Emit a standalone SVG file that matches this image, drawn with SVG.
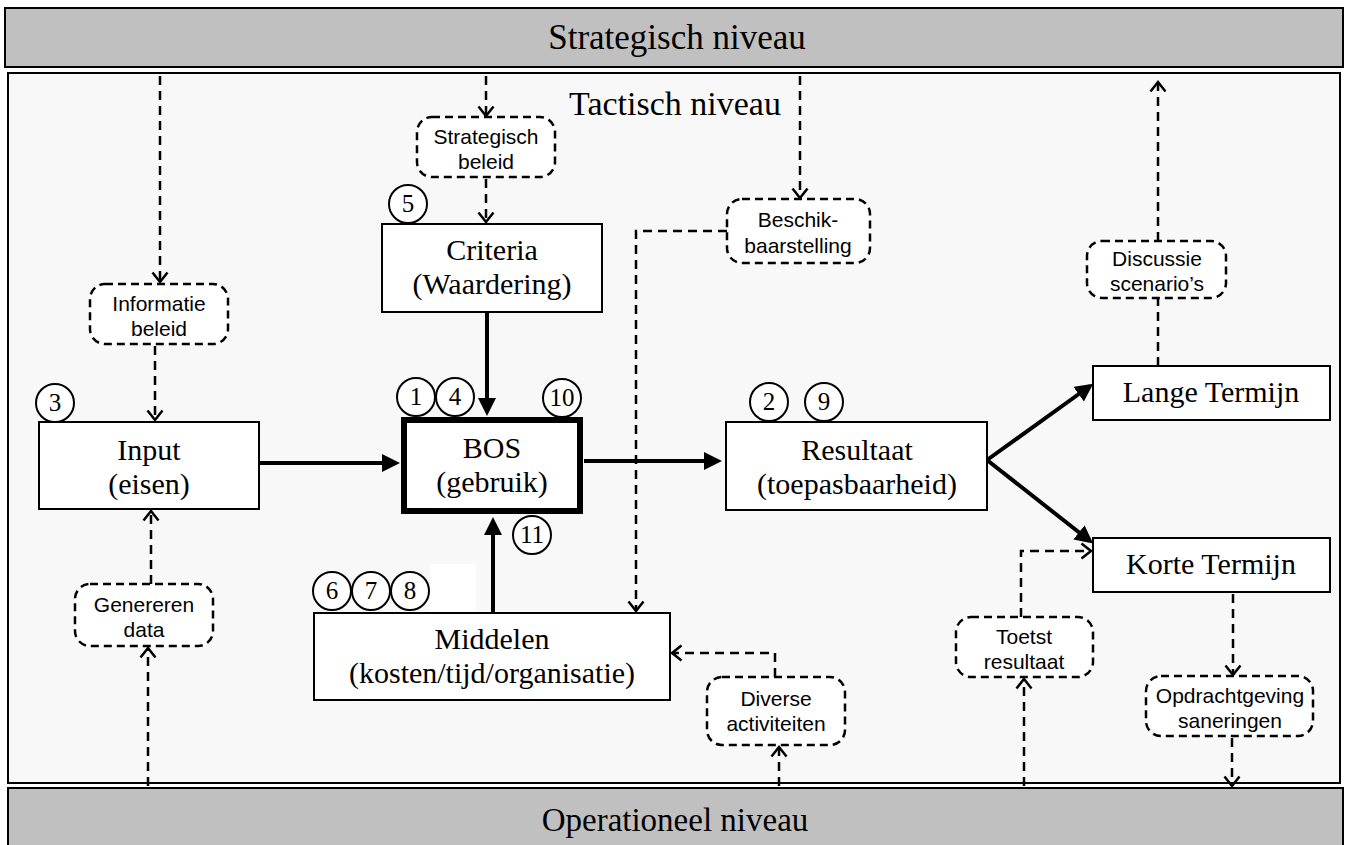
<svg xmlns="http://www.w3.org/2000/svg" width="1349" height="845" viewBox="0 0 1349 845">
<defs>
<style>
.bar{fill:#c0c0c0;stroke:#000;stroke-width:2}
.lvl{font-family:"Liberation Serif","Times New Roman",serif;font-size:34px;fill:#000;text-anchor:middle}
.box{fill:#fff;stroke:#000;stroke-width:2}
.bt{font-family:"Liberation Serif","Times New Roman",serif;font-size:30px;fill:#000;text-anchor:middle}
.db{fill:#fff;stroke:#000;stroke-width:2.5;stroke-dasharray:8 5}
.dt{font-family:"Liberation Sans",Arial,sans-serif;font-size:21px;fill:#000;text-anchor:middle}
.circ{fill:#fff;stroke:#000;stroke-width:2}
.ct{font-family:"Liberation Serif","Times New Roman",serif;font-size:25px;fill:#000;text-anchor:middle}
.dash{fill:none;stroke:#000;stroke-width:2.5;stroke-dasharray:9 6}
.thick{fill:none;stroke:#000;stroke-width:4}
</style>
<marker id="open" markerWidth="14" markerHeight="18" refX="11" refY="9" orient="auto" markerUnits="userSpaceOnUse"><path d="M1.5,1.5 L11,9 L1.5,16.5" fill="none" stroke="#000" stroke-width="2.5"/></marker>
<marker id="solid" markerWidth="20" markerHeight="20" refX="14" refY="9" orient="auto" markerUnits="userSpaceOnUse"><path d="M0,0 L18,9 L0,18 z" fill="#000"/></marker>
</defs>
<rect width="1349" height="845" fill="#fff"/>
<g id="strategisch-niveau">
<rect class="bar" x="5" y="8" width="1338" height="59"/>
<text class="lvl" x="677" y="49" style="font-size:35px">Strategisch niveau</text>
</g>
<g id="tactisch-niveau">
<rect x="8" y="73" width="1332" height="710" fill="#f8f8f8" stroke="#000" stroke-width="2"/>
<text class="lvl" x="675" y="115">Tactisch niveau</text>
</g>
<g id="operationeel-niveau">
<rect class="bar" x="8" y="788" width="1335" height="60"/>
<text class="lvl" x="675" y="831" style="font-size:33px">Operationeel niveau</text>
</g>
<g id="connectors">
<path class="dash" d="M160,76 V282" marker-end="url(#open)"/>
<path class="dash" d="M155,346 V420" marker-end="url(#open)"/>
<path class="dash" d="M486,76 V116" marker-end="url(#open)"/>
<path class="dash" d="M486,179 V222" marker-end="url(#open)"/>
<path class="dash" d="M800,76 V198" marker-end="url(#open)"/>
<path class="dash" d="M727,231 H636 V611" marker-end="url(#open)"/>
<path class="dash" d="M1158,366 V298"/>
<path class="dash" d="M1158,241 V82" marker-end="url(#open)"/>
<path class="dash" d="M1233,594 V675" marker-end="url(#open)"/>
<path class="dash" d="M1232,738 V786" marker-end="url(#open)"/>
<path class="dash" d="M1024,786 V679" marker-end="url(#open)"/>
<path class="dash" d="M1021,617 V551 H1091" marker-end="url(#open)"/>
<path class="dash" d="M779,786 V747" marker-end="url(#open)"/>
<path class="dash" d="M775,677 V653 H672" marker-end="url(#open)"/>
<path class="dash" d="M148,786 V648" marker-end="url(#open)"/>
<path class="dash" d="M151,584 V511" marker-end="url(#open)"/>
<path class="thick" d="M259,463 H396" marker-end="url(#solid)"/>
<path class="thick" d="M487,312 V412" marker-end="url(#solid)"/>
<path class="thick" d="M584,461 H718" marker-end="url(#solid)"/>
<path class="thick" d="M493,613 V521" marker-end="url(#solid)"/>
<path class="thick" d="M987,460 L1090,386" marker-end="url(#solid)"/>
<path class="thick" d="M987,460 L1090,541" marker-end="url(#solid)"/>
</g>
<g id="strategisch-beleid">
<rect class="db" x="417" y="117" width="138" height="60" rx="15"/>
<text class="dt" x="486" y="144">Strategisch</text>
<text class="dt" x="486" y="169">beleid</text>
</g>
<g id="criteria">
<rect class="box" x="382" y="224" width="220" height="88"/>
<text class="bt" x="492" y="260">Criteria</text>
<text class="bt" x="492" y="294">(Waardering)</text>
</g>
<g id="c5"><circle class="circ" cx="408" cy="204" r="19"/><text class="ct" x="408" y="212">5</text></g>
<g id="beschikbaarstelling">
<rect class="db" x="727" y="199" width="143" height="64" rx="15"/>
<text class="dt" x="798" y="227">Beschik-</text>
<text class="dt" x="798" y="253">baarstelling</text>
</g>
<g id="informatie-beleid">
<rect class="db" x="90" y="284" width="138" height="60" rx="15"/>
<text class="dt" x="159" y="311">Informatie</text>
<text class="dt" x="159" y="336">beleid</text>
</g>
<g id="c3"><circle class="circ" cx="55" cy="403" r="19"/><text class="ct" x="55" y="411">3</text></g>
<g id="input">
<rect class="box" x="39" y="422" width="220" height="87"/>
<text class="bt" x="149" y="460">Input</text>
<text class="bt" x="149" y="494">(eisen)</text>
</g>
<g id="bos">
<rect x="404" y="420" width="176" height="91" fill="#fff" stroke="#000" stroke-width="6"/>
<text class="bt" x="492" y="458">BOS</text>
<text class="bt" x="492" y="492">(gebruik)</text>
</g>
<g id="c1"><circle class="circ" cx="416" cy="397" r="19"/><text class="ct" x="416" y="405">1</text></g>
<g id="c4"><circle class="circ" cx="455" cy="397" r="19"/><text class="ct" x="455" y="405">4</text></g>
<g id="c10"><circle class="circ" cx="562" cy="398" r="19"/><text class="ct" x="562" y="406">10</text></g>
<g id="c11"><circle class="circ" cx="532" cy="535" r="19"/><text class="ct" x="532" y="543">11</text></g>
<g id="resultaat">
<rect class="box" x="726" y="422" width="261" height="88"/>
<text class="bt" x="857" y="460">Resultaat</text>
<text class="bt" x="857" y="494">(toepasbaarheid)</text>
</g>
<g id="c2"><circle class="circ" cx="769" cy="402" r="19"/><text class="ct" x="769" y="410">2</text></g>
<g id="c9"><circle class="circ" cx="824" cy="402" r="19"/><text class="ct" x="824" y="410">9</text></g>
<g id="lange-termijn">
<rect class="box" x="1093" y="366" width="237" height="54"/>
<text class="bt" x="1211" y="402">Lange Termijn</text>
</g>
<g id="korte-termijn">
<rect class="box" x="1093" y="538" width="237" height="54"/>
<text class="bt" x="1211" y="574">Korte Termijn</text>
</g>
<g id="discussie-scenarios">
<rect class="db" x="1087" y="241" width="139" height="57" rx="15"/>
<text class="dt" x="1157" y="266">Discussie</text>
<text class="dt" x="1157" y="291">scenario’s</text>
</g>
<g id="toetst-resultaat">
<rect class="db" x="956" y="617" width="137" height="60" rx="15"/>
<text class="dt" x="1024" y="644">Toetst</text>
<text class="dt" x="1024" y="669">resultaat</text>
</g>
<g id="opdrachtgeving-saneringen">
<rect class="db" x="1146" y="676" width="167" height="60" rx="15"/>
<text class="dt" x="1230" y="703">Opdrachtgeving</text>
<text class="dt" x="1230" y="728">saneringen</text>
</g>
<g id="diverse-activiteiten">
<rect class="db" x="707" y="677" width="138" height="68" rx="15"/>
<text class="dt" x="776" y="706">Diverse</text>
<text class="dt" x="776" y="731">activiteiten</text>
</g>
<g id="middelen">
<rect x="430" y="564" width="46" height="48" fill="#fff"/>
<rect class="box" x="314" y="613" width="356" height="87"/>
<text class="bt" x="492" y="649">Middelen</text>
<text class="bt" x="492" y="683">(kosten/tijd/organisatie)</text>
</g>
<g id="c6"><circle class="circ" cx="332" cy="591" r="19"/><text class="ct" x="332" y="599">6</text></g>
<g id="c7"><circle class="circ" cx="371" cy="591" r="19"/><text class="ct" x="371" y="599">7</text></g>
<g id="c8"><circle class="circ" cx="410" cy="591" r="19"/><text class="ct" x="410" y="599">8</text></g>
<g id="genereren-data">
<rect class="db" x="75" y="584" width="138" height="62" rx="15"/>
<text class="dt" x="144" y="612">Genereren</text>
<text class="dt" x="144" y="637">data</text>
</g>
</svg>
